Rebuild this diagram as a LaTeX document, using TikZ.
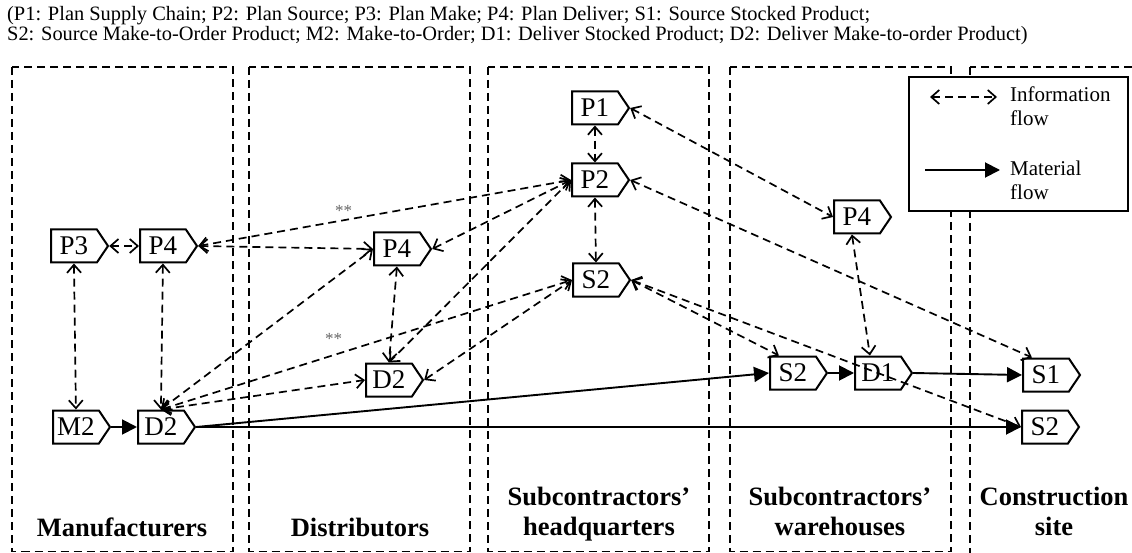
\documentclass[tikz,border=0pt]{standalone}
\usepackage{fontspec}
\setmainfont{Liberation Serif}
\usetikzlibrary{shapes.symbols,arrows.meta}

\begin{document}
\begin{tikzpicture}[x=1pt,y=-1pt,
  region/.style={draw, line width=1.7pt, dash pattern=on 8pt off 5pt},
  proc/.style={signal, signal to=east, draw, line width=2pt, fill=white,
    minimum height=33pt, minimum width=57pt, inner sep=0pt,
    signal pointer angle=112, font=\fontsize{27}{27}\selectfont, anchor=west},
  info/.style={line width=1.7pt, dash pattern=on 8pt off 5pt,
    {Straight Barb[length=8pt,width=14pt]}-{Straight Barb[length=8pt,width=14pt]}},
  mat/.style={line width=1.9pt, -{Triangle[length=15pt,width=15pt]}},
  lbl/.style={font=\fontsize{26.5}{30}\selectfont\bfseries, align=center, inner sep=0pt},
  stars/.style={text=black!60, font=\fontsize{17}{17}\selectfont, inner sep=0pt},
  legtext/.style={anchor=base west, align=left, inner sep=0pt, font=\fontsize{21}{24}\selectfont}
]
\useasboundingbox (0,0) rectangle (1132,553);

% key to the abbreviations (base anchor sits on the last line)
\node[anchor=base west, align=left, inner sep=0pt, font=\fontsize{20.4}{20}\selectfont] (hdr) at (7,40.5)
  {(P1: Plan Supply Chain; P2: Plan Source; P3: Plan Make; P4: Plan Deliver; S1: Source Stocked Product;\\
   S2: Source Make-to-Order Product; M2: Make-to-Order; D1: Deliver Stocked Product; D2: Deliver Make-to-order Product)};

% actor regions
\draw[region] (12,67) rectangle (233,551.5);
\draw[region] (249,67) rectangle (470,551.5);
\draw[region] (488,67) rectangle (709,551.5);
\draw[region] (730,67) rectangle (951,551.5);
\draw[region] (970,67) rectangle (1145,558);

\node[lbl, anchor=base] (labM) at (122,536) {Manufacturers};
\node[lbl, anchor=base] (labD) at (360,536) {Distributors};
\node[lbl, anchor=base] (labH) at (599,535) {Subcontractors’\\headquarters};
\node[lbl, anchor=base] (labW) at (840,535) {Subcontractors’\\warehouses};
\node[lbl, anchor=base] (labC) at (1054,535) {Construction\\site};

% legend
\node[draw, fill=white, line width=1.8pt, minimum width=219pt, minimum height=134pt, inner sep=0pt] (legend) at (1018.5,144) {};
\coordinate (li1) at (930,97);
\coordinate (li2) at (997,97);
\coordinate (lm1) at (925,170);
\coordinate (lm2) at (1000,170);
\draw[info] (li1) -- (li2);
\draw[mat] (lm1) -- (lm2);
\node[legtext] (lgi) at (1010,126) {Information\\flow};
\node[legtext] (lgm) at (1010,200) {Material\\flow};

% SCOR processes
\node[proc] (P3)  at (50,246)   {P3};
\node[proc] (P4m) at (139,246)  {P4};
\node[proc] (M2)  at (52,427)   {M2};
\node[proc] (D2m) at (137,427)  {D2};
\node[proc] (P4d) at (373,249)  {P4};
\node[proc] (D2d) at (365,380)  {D2};
\node[proc] (P1)  at (571,108)  {P1};
\node[proc] (P2)  at (571,180)  {P2};
\node[proc] (S2h) at (572,280)  {S2};
\node[proc] (P4w) at (833,217)  {P4};
\node[proc] (S2w) at (769,373)  {S2};
\node[proc] (D1)  at (854,373)  {D1};
\node[proc] (S1)  at (1022,375) {S1};
\node[proc] (S2c) at (1021,427) {S2};

% information flows
\draw[info] (P3.east) -- (P4m.west);
\draw[info] (P3.south) -- (M2.north);
\draw[info] (P4m.south) -- (D2m.north);
\draw[info] (P4m.east) -- (P4d.west);
\draw[info] (P4m.east) -- node[stars, pos=0.39, above=3pt] {**} (P2.west);
\draw[info] (P4d.east) -- (P2.west);
\draw[info] (P4d.south) -- (D2d.north);
\draw[info] (P2.west) -- (D2d.north);
\draw[info] (D2m.north) -- (P4d.west);
\draw[info] (D2m.north) -- node[stars, pos=0.42, above=10pt] {**} (S2h.west);
\draw[info] (D2m.north) -- (D2d.west);
\draw[info] (D2d.east) -- (S2h.west);
\draw[info] (P1.south) -- (P2.north);
\draw[info] (P2.south) -- (S2h.north);
\draw[info] (P1.east) -- (P4w.west);
\draw[info] (P2.east) -- ([xshift=-14pt]S1.north);
\draw[info] (S2h.east) -- ([xshift=-14pt]S2w.north);
\draw[info] (S2h.east) -- (S2c.west);
\draw[info] ([xshift=-5pt]P4w.south) -- ([xshift=-8pt]D1.north);

% material flows
\draw[mat] (M2.east) -- (D2m.west);
\draw[mat] (D2m.east) -- (S2w.west);
\draw[mat] (D2m.east) -- (S2c.west);
\draw[mat] (S2w.east) -- (D1.west);
\draw[mat] (D1.east) -- (S1.west);
\end{tikzpicture}
\end{document}
